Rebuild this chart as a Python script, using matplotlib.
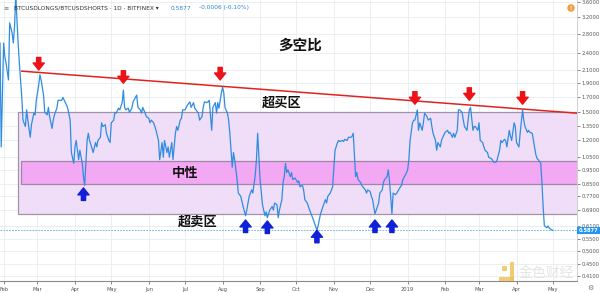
import matplotlib
matplotlib.use("Agg")
import matplotlib.pyplot as plt
import matplotlib.dates as mdates
from matplotlib.patches import Rectangle
from matplotlib.ticker import FixedLocator, NullLocator, NullFormatter
import pandas as pd

plt.rcParams['font.family'] = ['DejaVu Sans']

# ---------------- data ----------------
start_date = '2018-01-29'
days = [0, 1, 3, 4, 5, 7, 8, 10, 11, 12, 13, 14, 15, 16, 17, 18, 19, 21, 22, 23, 25, 26, 28, 29, 30,
        32, 33, 34, 36, 37, 39, 40, 41, 43, 44, 45, 47, 48, 50, 51, 52, 54, 55, 56, 58, 59, 61, 62, 63,
        65, 66, 68, 69, 70, 72, 73, 74, 76, 77, 79, 80, 81, 83, 84, 85, 87, 88, 90, 91, 92, 94, 95, 96,
        98, 99, 101, 102, 103, 104, 106, 107, 109, 110, 112, 113, 114, 116, 117, 118, 120, 121, 123, 124,
        125, 127, 128, 129, 131, 132, 134, 135, 136, 138, 139, 140, 142, 143, 145, 146, 147, 149, 150,
        151, 153, 154, 155, 157, 158, 160, 161, 162, 164, 165, 167, 168, 169, 171, 172, 173, 175, 176,
        178, 179, 180, 181, 183, 184, 185, 186, 188, 189, 190, 192, 193, 194, 196, 197, 199, 201, 203,
        204, 206, 208, 209, 211, 212, 213, 215, 217, 219, 220, 221, 223, 225, 226, 227, 229, 230, 231,
        233, 234, 235, 236, 237, 238, 240, 241, 242, 244, 246, 247, 248, 250, 251, 252, 254, 256, 259,
        262, 263, 265, 267, 269, 270, 271, 273, 275, 276, 277, 279, 280, 281, 283, 284, 285, 287, 288,
        290, 291, 292, 294, 295, 296, 298, 299, 300, 302, 303, 304, 306, 307, 308, 310, 312, 313, 314,
        316, 317, 318, 320, 321, 322, 324, 325, 327, 328, 331, 332, 333, 335, 337, 338, 339, 341, 342,
        343, 345, 346, 347, 349, 350, 351, 353, 354, 356, 357, 358, 360, 361, 362, 364, 365, 366, 368,
        370, 371, 372, 374, 375, 376, 378, 379, 380, 382, 383, 384, 386, 387, 388, 389, 391, 392, 393,
        395, 396, 397, 399, 400, 401, 403, 404, 406, 407, 408, 410, 411, 413, 414, 415, 417, 418, 419,
        421, 422, 423, 425, 426, 427, 429, 430, 432, 433, 434, 436, 437, 438, 440, 441, 443, 444, 445,
        447, 448, 449, 450, 452, 453, 454, 456, 457]
ratio = [2.60, 1.14, 2.60, 2.33, 2.22, 1.94, 3.05, 2.82, 2.60, 2.95, 3.80, 3.12, 2.60, 2.22, 1.94, 1.69,
         1.41, 1.34, 1.53, 1.41, 1.23, 1.36, 1.49, 1.47, 1.65,
         1.86, 2.02, 1.94, 1.72, 1.50, 1.47, 1.56, 1.45, 1.32, 1.41, 1.47, 1.55, 1.65, 1.65, 1.65, 1.69,
         1.62, 1.59, 1.55, 1.41, 1.09, 1.00, 1.14, 1.20,
         1.03, 1.11, 1.00, 0.90, 0.84, 1.20, 1.27, 1.20, 1.13, 1.09, 1.18, 1.14, 1.20, 1.23, 1.38, 1.34,
         1.36, 1.27, 1.20, 1.18, 1.38, 1.41, 1.50, 1.49,
         1.55, 1.53, 1.62, 1.79, 1.56, 1.53, 1.55, 1.50, 1.55, 1.63, 1.69, 1.72, 1.56, 1.53, 1.49, 1.56,
         1.49, 1.45, 1.43, 1.38,
         1.41, 1.38, 1.34, 1.30, 1.20, 1.03, 1.18, 1.05, 1.20, 1.09, 1.14, 1.05, 1.18, 1.03, 1.27, 1.34,
         1.30, 1.41, 1.43,
         1.53, 1.53, 1.56, 1.59, 1.63, 1.56, 1.62, 1.55, 1.53, 1.49, 1.41, 1.45, 1.56, 1.63, 1.62, 1.63,
         1.65, 1.30, 1.56,
         1.62, 1.49, 1.62, 1.55, 1.75, 1.83, 1.75, 1.56, 1.49, 1.41, 1.27, 0.97, 1.09, 1.03, 0.88, 0.79,
         0.77, 0.71, 0.66,
         0.69, 0.77, 0.81, 0.79, 0.91, 1.03, 1.27, 0.88, 0.72, 0.66, 0.68, 0.65, 0.69, 0.71, 0.69, 0.73,
         0.72, 0.65, 0.69,
         0.75, 0.86, 0.90, 1.00, 0.93, 0.95, 0.90, 0.93, 0.88, 0.89, 0.86, 0.87, 0.83, 0.84, 0.81, 0.75,
         0.73, 0.69, 0.64,
         0.588, 0.61, 0.67, 0.71, 0.75, 0.73, 0.77, 0.79, 0.83, 0.97, 1.11, 1.18, 1.20, 1.19, 1.20, 1.19,
         1.21, 1.20, 1.23,
         1.23, 1.24, 1.27, 0.90, 0.93, 0.88, 0.86, 0.84, 0.83, 0.81, 0.79, 0.81, 0.80, 0.77, 0.75, 0.67,
         0.71, 0.73, 0.79,
         0.81, 0.86, 0.88, 0.90, 0.95, 0.87, 0.67, 0.79, 0.78, 0.79, 0.83, 0.84, 0.88, 0.91, 0.95, 1.03,
         1.20, 1.38, 1.41,
         1.41, 1.53, 1.30, 1.38, 1.30, 1.38, 1.49, 1.45, 1.41, 1.43, 1.34, 1.27, 1.20, 1.11, 1.18, 1.14,
         1.20, 1.23, 1.28,
         1.30, 1.27, 1.28, 1.23, 1.27, 1.23, 1.30, 1.53, 1.53, 1.50, 1.41, 1.34, 1.30, 1.41, 1.53, 1.56,
         1.30, 1.34, 1.34,
         1.30, 1.38, 1.20, 1.18, 1.14, 1.11, 1.09, 1.05, 1.04, 1.03, 1.01, 1.01, 1.03, 1.11, 1.20, 1.18,
         1.21, 1.20, 1.14,
         1.30, 1.24, 1.20, 1.38, 1.34, 1.18, 1.14, 1.27, 1.53, 1.41, 1.34, 1.28, 1.30, 1.28, 1.27, 1.20,
         1.07, 1.04, 1.03,
         1.00, 0.86, 0.71, 0.61, 0.60, 0.608, 0.599, 0.59, 0.5877]
last_value = 0.5877

# resistance trend line (day, value)
trend_days = [18, 477]
trend_vals = [2.08, 1.49]

# zones (value ranges)
overbought_zone = (0.67, 1.50)   # outer box
neutral_zone = (0.85, 1.02)      # inner band
zone_start_days = [15, 17]

# arrow annotations
red_arrow_days = [32, 102, 182, 343, 388, 432]
red_arrow_vals = [2.10, 1.89, 1.94, 1.60, 1.65, 1.60]
blue_arrow_days = [69, 203, 221, 262, 310, 324]
blue_arrow_vals = [0.823, 0.638, 0.633, 0.588, 0.638, 0.638]

# text labels
labels = ['多空比', '超买区', '中性', '超卖区']
label_days = [248, 233, 153, 163]
label_vals = [2.56, 1.62, 0.93, 0.628]
label_sizes = [10.5, 9.5, 9.5, 9.5]

yticks = [3.6, 3.2, 2.8, 2.4, 2.1, 1.9, 1.7, 1.5, 1.35, 1.2, 1.05, 0.95, 0.85, 0.77, 0.69, 0.61,
          0.55, 0.50, 0.45, 0.41]
month_ticks = ['2018-02-01', '2018-03-01', '2018-04-01', '2018-05-01', '2018-06-01', '2018-07-01',
               '2018-08-01', '2018-09-01', '2018-10-01', '2018-11-01', '2018-12-01', '2019-01-01',
               '2019-02-01', '2019-03-01', '2019-04-01', '2019-05-01']
month_labels = ['Feb', 'Mar', 'Apr', 'May', 'Jun', 'Jul', 'Aug', 'Sep', 'Oct', 'Nov', 'Dec', '2019',
                'Feb', 'Mar', 'Apr', 'May']
x_span_days = 477
y_range = (0.393, 3.66)

# ---------------- plot ----------------
t0 = pd.Timestamp(start_date)
def to_date(d):
    return t0 + pd.to_timedelta(d, 'D')

dates = [to_date(d) for d in days]

W, H = 600, 293
fig = plt.figure(figsize=(W / 100, H / 100), dpi=100)
fig.patch.set_facecolor('white')
ax = fig.add_axes([0, 1 - 281 / H, 577 / W, 281 / H])
ax.set_facecolor('white')
ax.set_yscale('log')
ax.set_xlim(to_date(0), to_date(x_span_days))
ax.set_ylim(*y_range)

# grid
ax.yaxis.set_major_locator(FixedLocator(yticks))
ax.yaxis.set_minor_locator(NullLocator())
ax.yaxis.set_minor_formatter(NullFormatter())
ax.set_yticklabels([f'{v:.4f}' for v in yticks])
ax.set_xticks([pd.Timestamp(m) for m in month_ticks])
ax.set_xticklabels(month_labels)
ax.grid(True, color='#e6edf3', lw=0.6, zorder=0)
ax.set_axisbelow(True)

ax.yaxis.tick_right()
ax.tick_params(axis='y', which='major', labelsize=3.7, colors='#555555', length=2, width=0.5, pad=1.5)
ax.tick_params(axis='x', which='major', labelsize=3.7, colors='#555555', length=2, width=0.5, pad=2.5)
for s in ['top', 'left']:
    ax.spines[s].set_visible(False)
ax.spines['right'].set_color('#c8c8c8')
ax.spines['right'].set_linewidth(0.6)
ax.spines['bottom'].set_color('#8a8a8a')
ax.spines['bottom'].set_linewidth(0.8)

# zones
x_end = mdates.date2num(to_date(x_span_days + 5))
xa = mdates.date2num(to_date(zone_start_days[0]))
ax.add_patch(Rectangle((xa, overbought_zone[0]), x_end - xa, overbought_zone[1] - overbought_zone[0],
                       facecolor='#efdcf8', edgecolor='#9b8aa3', lw=0.9, alpha=0.92, zorder=1))
xb = mdates.date2num(to_date(zone_start_days[1]))
ax.add_patch(Rectangle((xb, neutral_zone[0]), x_end - xb, neutral_zone[1] - neutral_zone[0],
                       facecolor='#f3a4f3', edgecolor='#9b7fa3', lw=0.9, alpha=0.92, zorder=1.1))

# last value dashed line
ax.axhline(last_value, color='#5aaee8', lw=0.6, ls=(0, (2, 1.5)), zorder=2)

# data line
ax.plot(dates, ratio, color='#2f8de0', lw=0.9, zorder=3)

# trend line
ax.plot([to_date(d) for d in trend_days], trend_vals, color='#e0231f', lw=1.1, zorder=4)

# arrows
arrow_style = 'simple,head_length=0.5,head_width=0.8,tail_width=0.3'
for d, v in zip(red_arrow_days, red_arrow_vals):
    ax.annotate('', xy=(to_date(d), v), xytext=(0, 9), textcoords='offset points',
                arrowprops=dict(arrowstyle=arrow_style, color='#ec1218', mutation_scale=10,
                                shrinkA=0, shrinkB=0), zorder=5)
for d, v in zip(blue_arrow_days, blue_arrow_vals):
    ax.annotate('', xy=(to_date(d), v), xytext=(0, -9), textcoords='offset points',
                arrowprops=dict(arrowstyle=arrow_style, color='#1020d8', mutation_scale=10,
                                shrinkA=0, shrinkB=0), zorder=5)

# labels
for txt, d, v, s in zip(labels, label_days, label_vals, label_sizes):
    ax.text(to_date(d), v, txt, ha='center', va='center', fontsize=s, fontweight='bold',
            color='#111111', family=['Noto Sans CJK SC', 'DejaVu Sans'], zorder=6)

# price label on axis
ax.text(1.003, last_value, f'{last_value:.4f}', transform=ax.get_yaxis_transform(),
        ha='left', va='center', fontsize=3.7, color='white', fontweight='bold',
        bbox=dict(boxstyle='square,pad=0.25', facecolor='#2196f3', edgecolor='none'),
        zorder=10, clip_on=False)

# header
fig.text(3 / W, 1 - 8 / H, '≡', fontsize=4.5, color='#777777', ha='left', va='center')
fig.text(14 / W, 1 - 8 / H, 'BTCUSDLONGS/BTCUSDSHORTS · 1D · BITFINEX ▾', fontsize=4.2,
         color='#333333', ha='left', va='center')
fig.text(171 / W, 1 - 8 / H, '0.5877', fontsize=4.2, color='#2a86d8', ha='left', va='center')
fig.text(199 / W, 1 - 8 / H, '-0.0006 (-0.10%)', fontsize=4.2, color='#2a86d8', ha='left', va='center')

# orange indicator dot
fig.text(571 / W, 1 - 8 / H, '!', fontsize=3.5, color='white', ha='center', va='center',
         fontweight='bold',
         bbox=dict(boxstyle='circle,pad=0.25', facecolor='#f39a3a', edgecolor='none'))

# watermark (logo + text)
logo_color = '#f2c25a'
for (lx, ly, lw_, lh) in [(502, 266, 5, 5), (510, 262, 4, 19), (499, 277, 15, 4)]:
    fig.patches.append(Rectangle((lx / W, 1 - (ly + lh) / H), lw_ / W, lh / H,
                                 transform=fig.transFigure, facecolor=logo_color,
                                 edgecolor='none', alpha=0.85, zorder=20))
fig.text(546 / W, 1 - 273 / H, '金色财经', fontsize=10, color='#e2e2e2', ha='center', va='center',
         family=['Noto Sans CJK SC', 'DejaVu Sans'], alpha=0.9)
fig.text(590 / W, 1 - 288 / H, '⚙', fontsize=5, color='#777777', ha='center', va='center')

fig.savefig('out.png', dpi=100, facecolor='white')
